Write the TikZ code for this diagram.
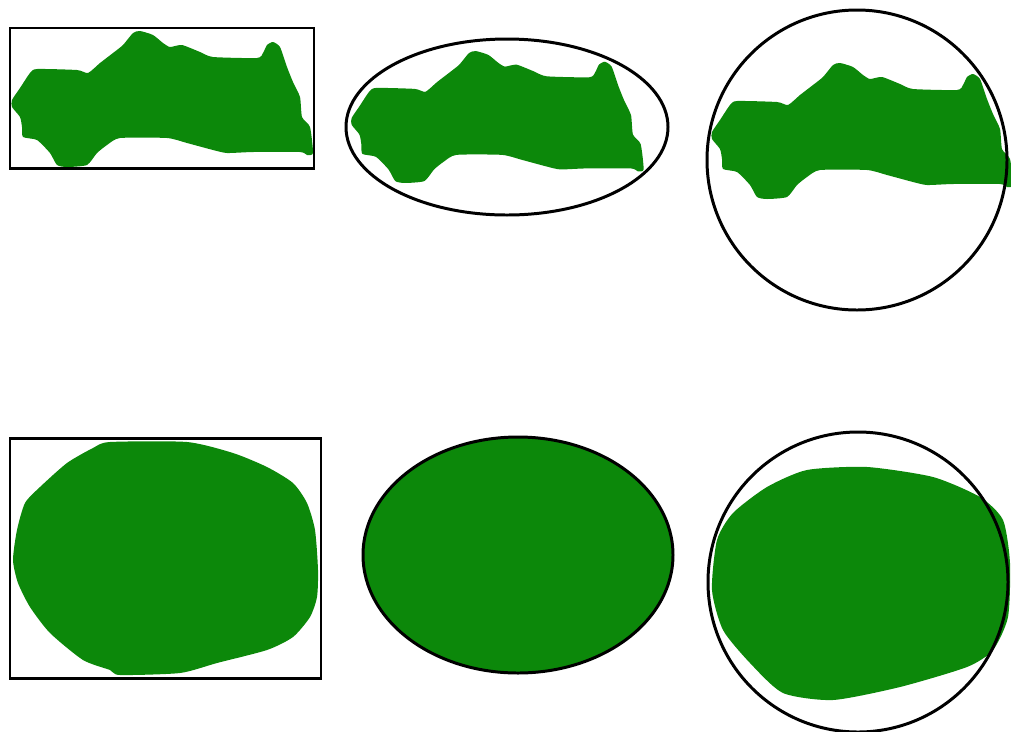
\documentclass[tikz,border=0pt]{standalone}
\usepackage{tikz}
\definecolor{regiongreen}{RGB}{12,136,10}

\tikzset{
  pics/region/.style={code={
    \fill[regiongreen] plot[smooth cycle,tension=0.35] coordinates {
      (12,100) (20,88) (30,73) (37,69) (77,70) (88,73) (100,63) (113,53)
      (123,45) (133,33) (140,31) (153,35) (163,43) (170,47) (182,45) (200,52)
      (213,57) (257,58) (263,53) (267,45) (273,42) (280,47) (287,67) (293,82)
      (300,97) (302,117) (310,127) (313,153) (307,155) (300,152) (253,152)
      (227,153) (213,150) (187,143) (167,138) (120,138) (107,145) (97,153)
      (87,165) (67,167) (57,165) (50,153) (37,140) (23,137) (22,127) (20,117)
      (12,107)};
  }}
}

\begin{document}
\begin{tikzpicture}[x=0.02cm,y=-0.02cm,
    outline/.style={draw=black,line width=1.7pt},
    filled/.style={fill=regiongreen}]
  \useasboundingbox (0,0) rectangle (1011,731);

  % top row: irregular region and its bounding shapes
  \pic at (0,0) {region};
  \draw[outline] (10,28) rectangle (314,168);

  \pic[scale=0.97] at (340,21) {region};
  \draw[outline] (507,127) ellipse [x radius=161,y radius=88];

  \pic at (700,32) {region};
  \draw[outline] (857,160) circle [radius=150];

  % bottom row: near-convex regions
  \fill[filled] plot[smooth cycle,tension=0.4] coordinates {
    (110,442) (187,442) (233,453) (267,467) (293,483) (307,503) (315,530)
    (318,570) (317,597) (310,617) (293,637) (267,650) (217,663) (180,673)
    (120,675) (110,670) (83,660) (50,633) (30,607) (18,583) (13,560)
    (17,530) (25,503) (40,487) (67,463) (93,448)};
  \draw[outline] (10,438) rectangle (321,678);

  \fill[filled] (518,555) ellipse [x radius=155,y radius=118];
  \draw[outline] (518,555) ellipse [x radius=155,y radius=118];

  \fill[filled] plot[smooth cycle,tension=0.4] coordinates {
    (807,470) (867,467) (933,477) (980,497) (1003,520) (1010,563) (1008,617)
    (993,650) (967,667) (900,687) (833,700) (783,693) (750,663) (723,630)
    (712,590) (717,540) (733,513) (767,487)};
  \draw[outline] (858,582) circle [radius=150];
\end{tikzpicture}
\end{document}
